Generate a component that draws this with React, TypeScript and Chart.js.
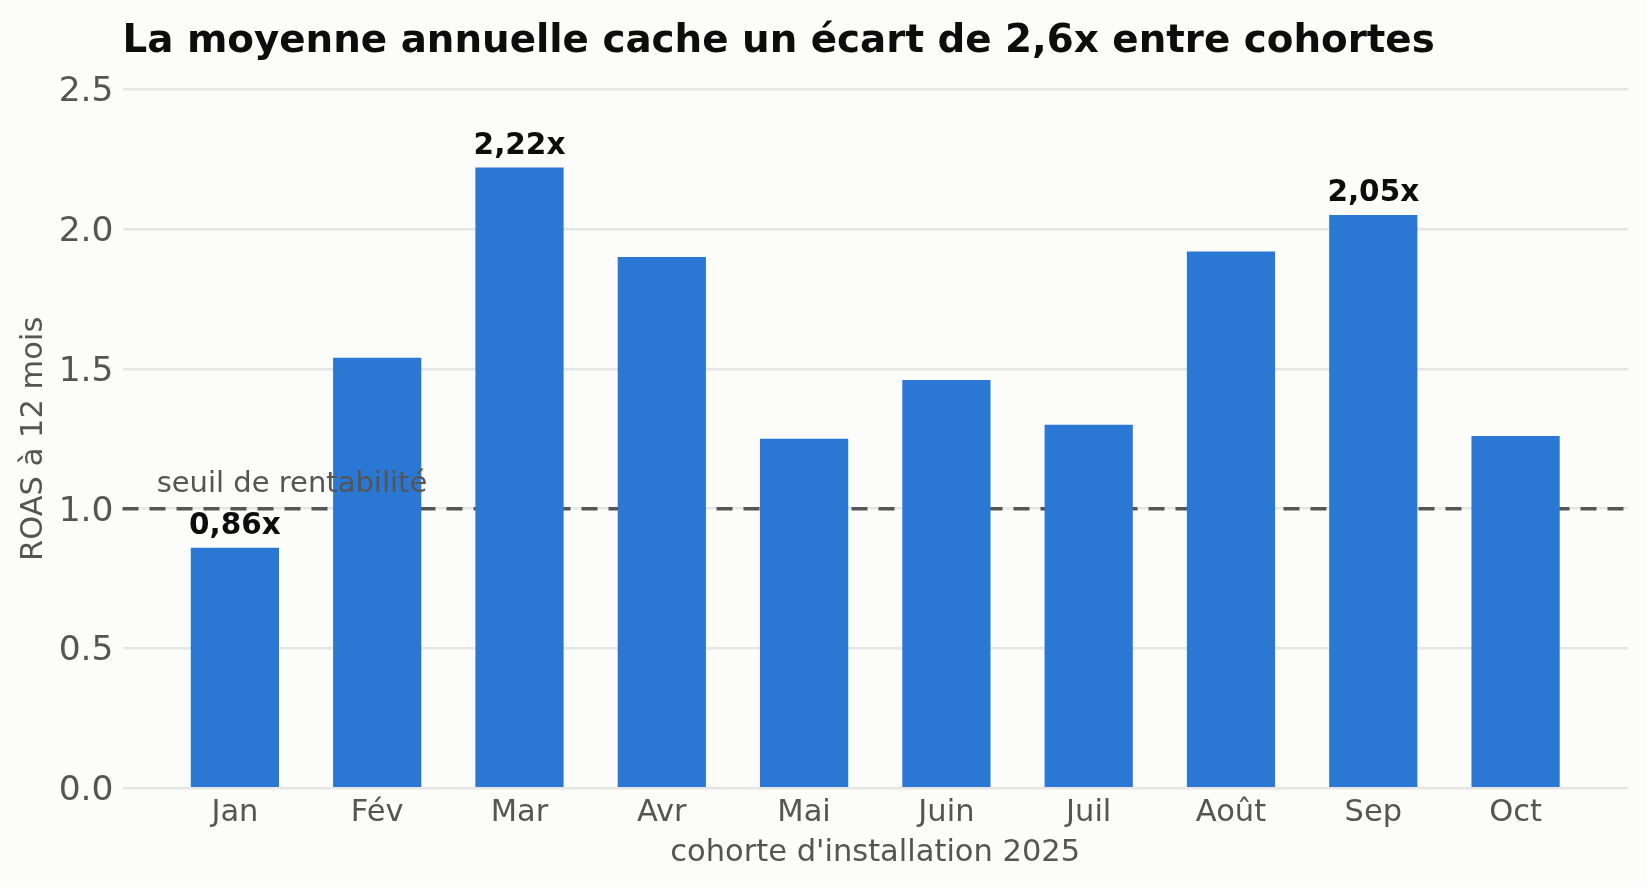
import React, { useEffect, useRef } from 'react';
import { Chart, registerables } from 'chart.js';

Chart.register(...registerables);

// ---- data ----
const categories = ['Jan', 'Fév', 'Mar', 'Avr', 'Mai', 'Juin', 'Juil', 'Août', 'Sep', 'Oct'];
const roas = [0.86, 1.54, 2.22, 1.9, 1.25, 1.46, 1.3, 1.92, 2.05, 1.26];
const labeledMonths = ['Jan', 'Mar', 'Sep'];
const yTickValues = [0, 0.5, 1.0, 1.5, 2.0, 2.5];
const breakEven = 1.0;
const breakEvenLabel = 'seuil de rentabilité';
const breakEvenLabelPos = [-0.55, 1.06];
const xRange = [-0.79, 9.79];
const yRange = [0, 2.5];
const titleText = 'La moyenne annuelle cache un écart de 2,6x entre cohortes';
const xTitle = "cohorte d'installation 2025";
const yTitle = 'ROAS à 12 mois';

// ---- styles ----
const FONT = '"DejaVu Sans", "Liberation Sans", sans-serif';
const BG = '#fcfcfa';
const BLUE = '#2a78d4';
const GRID = '#e6e6e6';
const MUTED = '#555555';
const INK = '#0d0d0d';
const W = 1647;
const H = 887;

const fmtRoas = (v: number) => v.toFixed(2).replace('.', ',') + 'x';

const decorPlugin = {
  id: 'decor',
  beforeDraw(chart: any) {
    const { ctx } = chart;
    ctx.save();
    ctx.fillStyle = BG;
    ctx.fillRect(0, 0, chart.width, chart.height);
    ctx.restore();
  },
  beforeDatasetsDraw(chart: any) {
    const { ctx, chartArea, scales } = chart;
    const y = scales.y.getPixelForValue(breakEven);
    ctx.save();
    ctx.strokeStyle = MUTED;
    ctx.lineWidth = 3.5;
    ctx.setLineDash([16, 11]);
    ctx.beginPath();
    ctx.moveTo(chartArea.left, y);
    ctx.lineTo(chartArea.right, y);
    ctx.stroke();
    ctx.restore();
  },
  afterDatasetsDraw(chart: any) {
    const { ctx, chartArea, scales } = chart;
    const meta = chart.getDatasetMeta(0);
    ctx.save();
    // value labels
    ctx.font = `bold 29.5px ${FONT}`;
    ctx.fillStyle = INK;
    ctx.textAlign = 'center';
    ctx.textBaseline = 'alphabetic';
    categories.forEach((c, i) => {
      if (!labeledMonths.includes(c)) return;
      const bar = meta.data[i];
      ctx.fillText(fmtRoas(roas[i]), bar.x, bar.y - 14);
    });
    // break-even label
    ctx.font = `29px ${FONT}`;
    ctx.fillStyle = MUTED;
    ctx.textAlign = 'left';
    ctx.fillText(
      breakEvenLabel,
      scales.x.getPixelForValue(breakEvenLabelPos[0]),
      scales.y.getPixelForValue(breakEvenLabelPos[1])
    );
    // title
    ctx.font = `bold 38.8px ${FONT}`;
    ctx.fillStyle = INK;
    ctx.textAlign = 'left';
    ctx.fillText(titleText, chartArea.left, 51.7);
    ctx.restore();
  },
};

function RoasChart() {
  const ref = useRef<HTMLCanvasElement | null>(null);

  useEffect(() => {
    document.body.style.margin = '0';
    document.body.style.background = BG;
    const canvas = ref.current;
    if (!canvas) return;
    const chart = new Chart(canvas, {
      type: 'bar',
      data: {
        datasets: [
          {
            data: categories.map((_, i) => ({ x: i, y: roas[i] })),
            backgroundColor: BLUE,
            borderWidth: 0,
            barPercentage: 0.62,
            categoryPercentage: 1,
          },
        ],
      },
      options: {
        animation: false,
        responsive: false,
        devicePixelRatio: 1,
        layout: { padding: { top: 89.3, left: 0, right: 19, bottom: 0 } },
        plugins: {
          legend: { display: false },
          tooltip: { enabled: false },
          title: { display: false },
        },
        scales: {
          x: {
            type: 'linear',
            offset: false,
            min: xRange[0],
            max: xRange[1],
            grid: { display: false, drawTicks: false, offset: false },
            border: { display: false },
            ticks: {
              autoSkip: false,
              maxRotation: 0,
              includeBounds: false,
              padding: 6.5,
              color: MUTED,
              font: { family: FONT, size: 30.5 },
              callback: (v: any) => categories[Math.round(Number(v))] ?? '',
            },
            afterBuildTicks: (s: any) => {
              s.ticks = categories.map((_, i) => ({ value: i }));
            },
            afterFit: (s: any) => {
              s.height = H - 788.3;
            },
            title: {
              display: true,
              text: xTitle,
              color: MUTED,
              font: { family: FONT, size: 30.5 },
              padding: { top: 0, bottom: 15.5 },
            },
          },
          y: {
            min: yRange[0],
            max: yRange[1],
            grid: { color: GRID, lineWidth: 2.5, drawTicks: false },
            border: { display: false },
            ticks: {
              padding: 9,
              labelOffset: 3,
              color: MUTED,
              font: { family: FONT, size: 34.5 },
              callback: (v: any) => Number(v).toFixed(1),
            },
            afterBuildTicks: (s: any) => {
              s.ticks = yTickValues.map((v) => ({ value: v }));
            },
            afterFit: (s: any) => {
              s.width = 122.5;
            },
            title: {
              display: true,
              text: yTitle,
              color: MUTED,
              font: { family: FONT, size: 30.5 },
              padding: { top: 16, bottom: 0 },
            },
          },
        },
      } as any,
      plugins: [decorPlugin],
    });
    return () => chart.destroy();
  }, []);

  return <canvas ref={ref} width={W} height={H} style={{ display: 'block', width: W, height: H }} />;
}

export default function App() {
  return (
    <div style={{ width: W, height: H, background: BG }}>
      <RoasChart />
    </div>
  );
}
